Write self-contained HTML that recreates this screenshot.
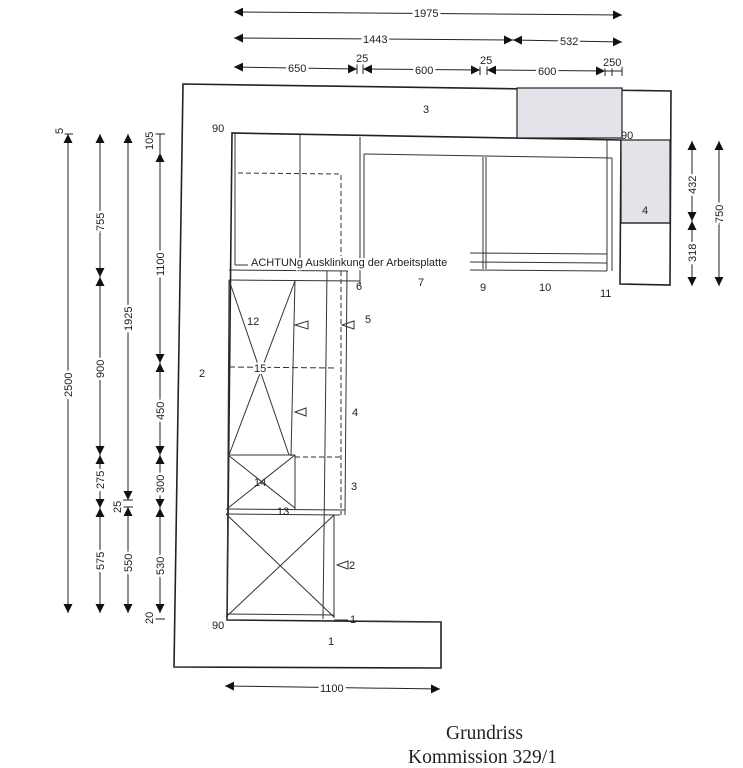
<!DOCTYPE html>
<html><head><meta charset="utf-8"><style>
html,body{margin:0;padding:0;background:#fff;}
svg{display:block;}
text{font-family:"Liberation Sans",sans-serif;font-size:11px;fill:#222;}
.d text{paint-order:stroke;stroke:#fff;stroke-width:5px;}
.w{paint-order:stroke;stroke:#fff;stroke-width:4px;}
</style></head><body>
<svg width="743" height="768" viewBox="0 0 743 768" xmlns="http://www.w3.org/2000/svg">
<defs>
<marker id="a" viewBox="0 0 10 10" refX="10" refY="5" markerWidth="9" markerHeight="9" markerUnits="userSpaceOnUse" orient="auto-start-reverse"><path d="M0,0L10,5L0,10z" fill="#111"/></marker>
</defs>
<g fill="none" stroke="#222" stroke-width="1.6">
<path d="M183,84 L671,91 L670,285 L620,284 L621,140 L232,133 L227,620 L441,622 L441,668 L174,667 Z"/>
</g>
<rect x="517" y="88" width="105" height="50" fill="#e4e3ea" stroke="#222" stroke-width="1.2"/>
<rect x="621" y="140" width="49" height="83" fill="#e4e3ea" stroke="#222" stroke-width="1.2"/>
<line x1="620" y1="223" x2="670" y2="223" stroke="#222" stroke-width="1.2"/>
<g fill="none" stroke="#333" stroke-width="1">
<line x1="235" y1="134" x2="235" y2="265"/>
<line x1="300" y1="134" x2="300" y2="270"/>
<line x1="360" y1="137" x2="360" y2="285"/>
<line x1="364" y1="154" x2="364" y2="270"/>
<line x1="364" y1="154" x2="612" y2="158"/>
<line x1="612" y1="158" x2="612" y2="271"/>
<line x1="607" y1="140" x2="607" y2="271"/>
<line x1="483" y1="157" x2="483" y2="269"/>
<line x1="486" y1="157" x2="486" y2="269"/>
<line x1="470" y1="253" x2="607" y2="254"/>
<line x1="470" y1="262" x2="607" y2="263"/>
<line x1="470" y1="270" x2="607" y2="271"/>
<line x1="235" y1="265" x2="248" y2="265"/>
<line x1="229" y1="270" x2="348" y2="271"/>
<line x1="229" y1="280" x2="360" y2="281"/>
<path d="M238,173 L341,174 L341,515" stroke-dasharray="5,3"/>
<line x1="347" y1="271" x2="345" y2="515"/>
<line x1="327" y1="271" x2="323" y2="619"/>
<line x1="295" y1="280" x2="291" y2="456"/>
<line x1="229" y1="280" x2="227" y2="620"/>
<line x1="229" y1="280" x2="289" y2="455"/>
<line x1="295" y1="281" x2="229" y2="455"/>
<line x1="229" y1="367" x2="337" y2="368" stroke-dasharray="6,3"/>
<line x1="228" y1="455" x2="295" y2="455"/>
<line x1="295" y1="455" x2="295" y2="509"/>
<line x1="295" y1="457" x2="340" y2="457" stroke-dasharray="5,3"/>
<line x1="228" y1="455" x2="295" y2="508"/>
<line x1="295" y1="455" x2="228" y2="508"/>
<line x1="226" y1="509" x2="345" y2="510"/>
<line x1="226" y1="514" x2="340" y2="515"/>
<line x1="334" y1="515" x2="334" y2="618"/>
<line x1="226" y1="514" x2="334" y2="617"/>
<line x1="334" y1="515" x2="226" y2="617"/>
<line x1="226" y1="614" x2="334" y2="615"/>
<line x1="334" y1="620" x2="348" y2="620"/>
<line x1="358" y1="621" x2="441" y2="622"/>
<path d="M295,325 L308,321 L308,329 Z"/>
<path d="M342,325 L354,321 L354,329 Z"/>
<path d="M295,412 L306,408 L306,416 Z"/>
<path d="M337,565 L348,561 L348,569 Z"/>
</g>
<text x="212" y="132">90</text>
<text x="423" y="113">3</text>
<text x="621" y="139">90</text>
<text x="642" y="214">4</text>
<text class="w" x="251" y="266" font-size="11.5">ACHTUNg Ausklinkung der Arbeitsplatte</text>
<text x="356" y="290">6</text>
<text x="418" y="286">7</text>
<text x="480" y="291">9</text>
<text x="539" y="291">10</text>
<text x="600" y="297">11</text>
<text x="247" y="325">12</text>
<text x="365" y="323">5</text>
<text x="199" y="377">2</text>
<text class="w" x="254" y="372">15</text>
<text x="352" y="416">4</text>
<text x="254" y="486">14</text>
<text x="351" y="490">3</text>
<text x="277" y="515">13</text>
<text x="349" y="569">2</text>
<text x="350" y="623">1</text>
<text x="212" y="629">90</text>
<text x="328" y="645">1</text>
<g class="d" stroke="#222" stroke-width="1">
<line x1="234" y1="12" x2="622" y2="15" marker-start="url(#a)" marker-end="url(#a)"/>
<text x="414" y="17">1975</text>
<line x1="234" y1="38" x2="513" y2="40" marker-start="url(#a)" marker-end="url(#a)"/>
<text x="363" y="43">1443</text>
<line x1="513" y1="40" x2="622" y2="42" marker-start="url(#a)" marker-end="url(#a)"/>
<text x="560" y="45">532</text>
<line x1="234" y1="67" x2="357" y2="69" marker-start="url(#a)" marker-end="url(#a)"/>
<text x="288" y="72">650</text>
<line x1="363" y1="69" x2="480" y2="70" marker-start="url(#a)" marker-end="url(#a)"/>
<text x="415" y="74">600</text>
<line x1="487" y1="70" x2="605" y2="71" marker-start="url(#a)" marker-end="url(#a)"/>
<text x="538" y="75">600</text>
<line x1="357" y1="64" x2="357" y2="74"/><line x1="363" y1="64" x2="363" y2="74"/>
<line x1="480" y1="65" x2="480" y2="75"/><line x1="487" y1="65" x2="487" y2="75"/>
<line x1="605" y1="66" x2="605" y2="76"/><line x1="612" y1="66" x2="612" y2="76"/><line x1="622" y1="66" x2="622" y2="76"/>
<line x1="605" y1="71" x2="622" y2="71"/>
<text x="356" y="62" stroke-width="0">25</text>
<text x="480" y="64" stroke-width="0">25</text>
<text x="603" y="66" stroke-width="0">250</text>
<line x1="225" y1="686" x2="440" y2="689" marker-start="url(#a)" marker-end="url(#a)"/>
<text x="320" y="692">1100</text>
<line x1="692" y1="141" x2="692" y2="221" marker-start="url(#a)" marker-end="url(#a)"/>
<line x1="692" y1="221" x2="692" y2="286" marker-start="url(#a)" marker-end="url(#a)"/>
<line x1="719" y1="141" x2="719" y2="286" marker-start="url(#a)" marker-end="url(#a)"/>
<text transform="translate(696,194) rotate(-90)">432</text>
<text transform="translate(696,262) rotate(-90)">318</text>
<text transform="translate(723,223) rotate(-90)">750</text>
<line x1="68" y1="134" x2="68" y2="613" marker-start="url(#a)" marker-end="url(#a)"/>
<line x1="63" y1="134" x2="73" y2="134"/>
<text transform="translate(72,397) rotate(-90)">2500</text>
<text transform="translate(63,134) rotate(-90)" stroke-width="0">5</text>
<line x1="100" y1="134" x2="100" y2="277" marker-start="url(#a)" marker-end="url(#a)"/>
<line x1="100" y1="277" x2="100" y2="455" marker-start="url(#a)" marker-end="url(#a)"/>
<line x1="100" y1="455" x2="100" y2="508" marker-start="url(#a)" marker-end="url(#a)"/>
<line x1="100" y1="508" x2="100" y2="613" marker-start="url(#a)" marker-end="url(#a)"/>
<text transform="translate(104,231) rotate(-90)">755</text>
<text transform="translate(104,378) rotate(-90)">900</text>
<text transform="translate(104,489) rotate(-90)">275</text>
<text transform="translate(104,570) rotate(-90)">575</text>
<line x1="128" y1="134" x2="128" y2="500" marker-start="url(#a)" marker-end="url(#a)"/>
<line x1="123" y1="500" x2="133" y2="500"/><line x1="123" y1="507" x2="133" y2="507"/>
<line x1="128" y1="507" x2="128" y2="613" marker-start="url(#a)" marker-end="url(#a)"/>
<text transform="translate(132,331) rotate(-90)">1925</text>
<text transform="translate(121,513) rotate(-90)" stroke-width="0">25</text>
<text transform="translate(132,572) rotate(-90)">550</text>
<line x1="155" y1="134" x2="165" y2="134"/>
<line x1="160" y1="134" x2="160" y2="153"/>
<line x1="160" y1="153" x2="160" y2="363" marker-start="url(#a)" marker-end="url(#a)"/>
<line x1="160" y1="363" x2="160" y2="455" marker-start="url(#a)" marker-end="url(#a)"/>
<line x1="160" y1="455" x2="160" y2="508" marker-start="url(#a)" marker-end="url(#a)"/>
<line x1="160" y1="508" x2="160" y2="613" marker-start="url(#a)" marker-end="url(#a)"/>
<line x1="155" y1="619" x2="165" y2="619"/>
<text transform="translate(153,150) rotate(-90)" stroke-width="0">105</text>
<text transform="translate(164,276) rotate(-90)">1100</text>
<text transform="translate(164,420) rotate(-90)">450</text>
<text transform="translate(164,493) rotate(-90)">300</text>
<text transform="translate(164,575) rotate(-90)">530</text>
<text transform="translate(153,624) rotate(-90)" stroke-width="0">20</text>
</g>
<text x="446" y="739" style="font-family:'Liberation Serif',serif;font-size:19.5px;">Grundriss</text>
<text x="408" y="763" style="font-family:'Liberation Serif',serif;font-size:19.5px;">Kommission 329/1</text>
</svg>
</body></html>
